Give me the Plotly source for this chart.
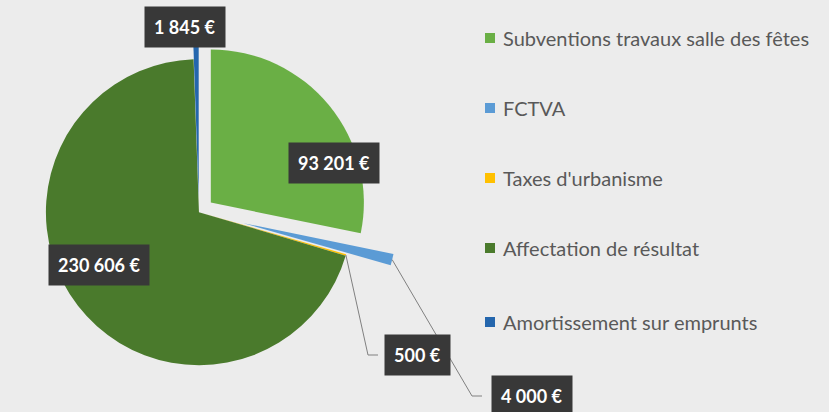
import math
import plotly.graph_objects as go

labels = ["Subventions travaux salle des fêtes", "FCTVA", "Taxes d'urbanisme",
          "Affectation de résultat", "Amortissement sur emprunts"]
values = [93201, 4000, 500, 230606, 1845]
colors = ["#6aaf45", "#5b9bd5", "#ffc000", "#4a7a2c", "#2466ad"]
pulls = [0.1, 0.3, 0.0, 0.0, 0.1]

W, H = 829, 412
dom_x = [0.0, 0.48]
dom_y = [0.0, 0.97]

def euro(v):
    return f"{v:,}".replace(",", " ") + " €"

fig = go.Figure()
fig.add_trace(go.Pie(
    labels=labels, values=values, sort=False, direction="clockwise", rotation=0,
    marker=dict(colors=colors, line=dict(width=0)), pull=pulls,
    textinfo="none", hoverinfo="label+value", showlegend=False,
    domain=dict(x=dom_x, y=dom_y),
))

# pie geometry (pixels) to attach leader lines
cx = (dom_x[0] + dom_x[1]) / 2 * W
cy = (1 - (dom_y[0] + dom_y[1]) / 2) * H
r = min((dom_x[1] - dom_x[0]) * W, (dom_y[1] - dom_y[0]) * H) / (2 + 2 * max(pulls))
total = sum(values)
cum = 0
mids = []
for v in values:
    mids.append((cum + v / 2) / total * 2 * math.pi)
    cum += v

def pt(i, frac):
    a = mids[i]
    rr = r * (frac + pulls[i])
    return cx + rr * math.sin(a), cy - rr * math.cos(a)

# label boxes: (slice index, box centre px)
label_pos = {0: (334, 163), 3: (99, 265), 4: (185, 27), 2: (417, 355), 1: (532, 396)}
for i, (px, py) in label_pos.items():
    fig.add_annotation(x=px / W, y=1 - py / H, xref="paper", yref="paper",
                       xanchor="center", yanchor="middle",
                       text=euro(values[i]), showarrow=False,
                       font=dict(family="Lato", size=18, color="white", weight="bold"),
                       bgcolor="#383838", borderpad=9)

# elbow leader lines for small slices
for i, (bx, by) in [(2, (378, 355)), (1, (482, 396))]:
    sx, sy = pt(i, 1.0)
    ex = bx - 10
    fig.add_shape(type="path", xref="paper", yref="paper",
                  path=f"M {sx / W} {1 - sy / H} L {ex / W} {1 - by / H} L {bx / W} {1 - by / H}",
                  line=dict(color="#808080", width=1))

# legend
leg_y = [38, 108, 178, 248, 322]
for lab, col, y in zip(labels, colors, leg_y):
    fig.add_shape(type="rect", xref="paper", yref="paper",
                  x0=485 / W, x1=495 / W, y0=1 - (y + 5) / H, y1=1 - (y - 5) / H,
                  fillcolor=col, line=dict(width=0))
    fig.add_annotation(x=501 / W, y=1 - y / H, xref="paper", yref="paper",
                       text=lab, showarrow=False, xanchor="left", yanchor="middle",
                       font=dict(family="Lato", size=20, color="#595959"))

fig.update_layout(width=W, height=H, margin=dict(l=0, r=0, t=0, b=0),
                  paper_bgcolor="#ececec", plot_bgcolor="#ececec")
fig.write_html("out.html", config={"displayModeBar": False},
               post_script="document.body.style.margin='0';document.body.style.overflow='hidden';")
